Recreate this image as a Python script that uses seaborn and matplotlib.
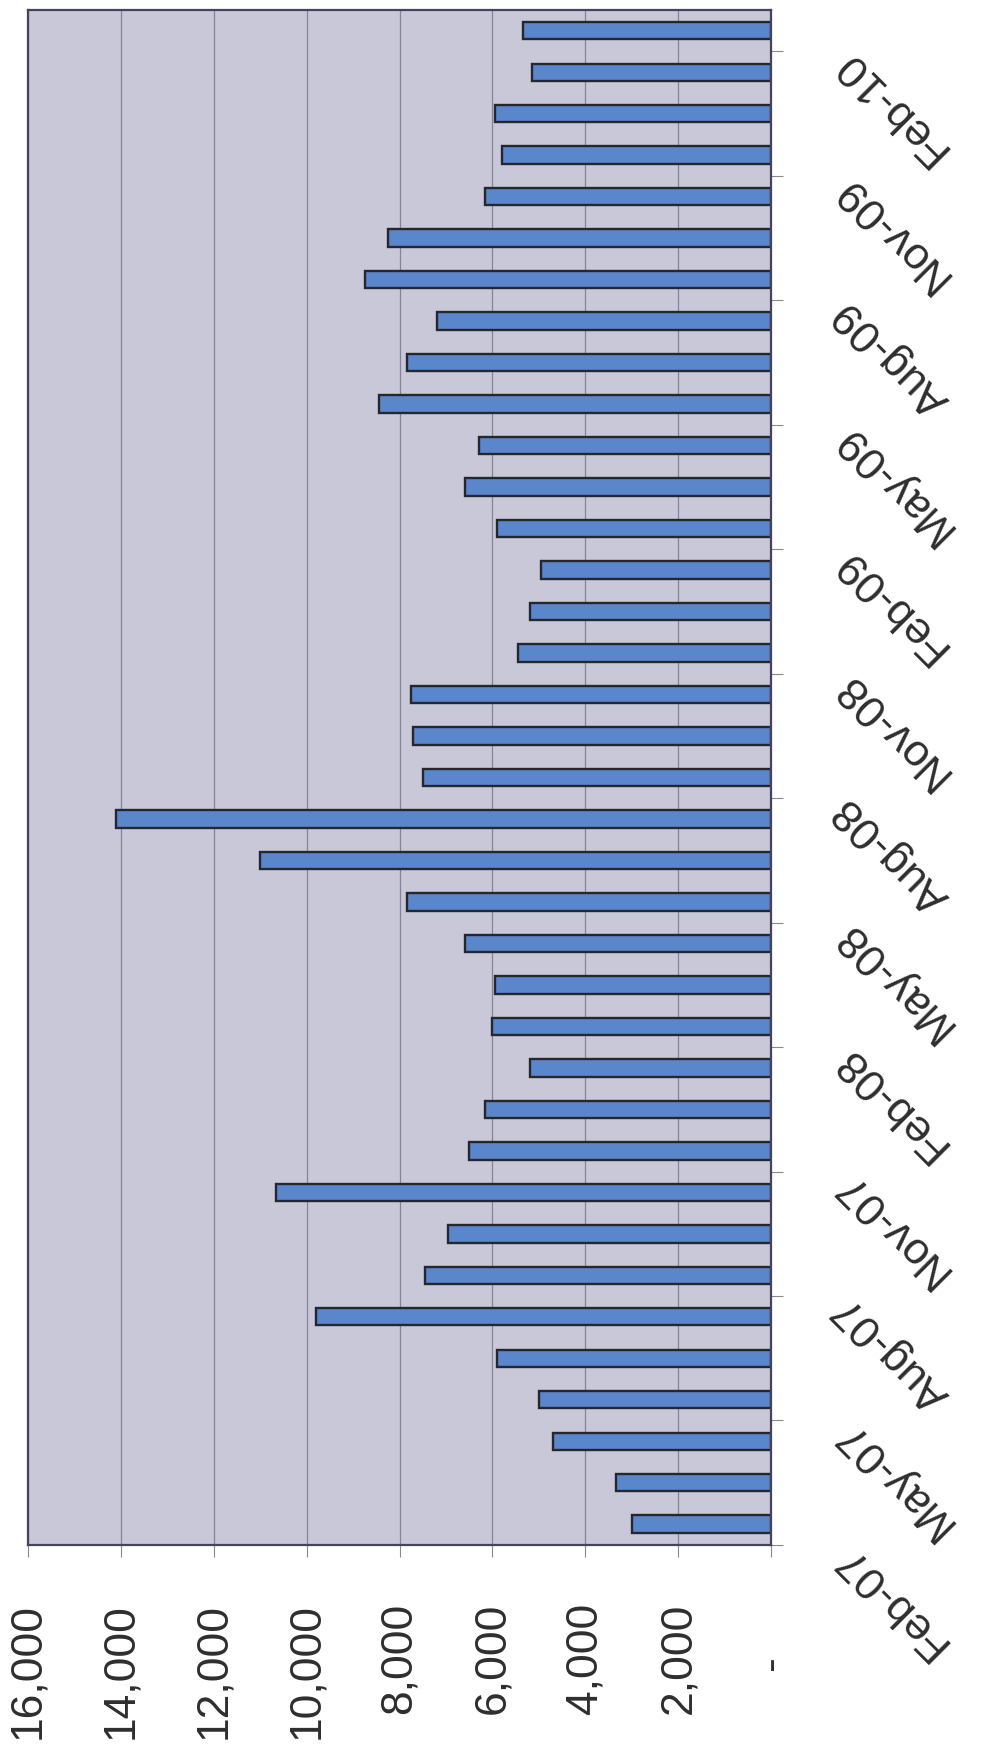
import numpy as np
import pandas as pd
import matplotlib
matplotlib.use("Agg")
import matplotlib.pyplot as plt
import matplotlib.transforms as mtransforms
from matplotlib.ticker import FixedLocator
import seaborn as sns

# Monthly totals, Feb-07 through Feb-10
months = [
    "Feb-07", "Mar-07", "Apr-07", "May-07", "Jun-07", "Jul-07", "Aug-07",
    "Sep-07", "Oct-07", "Nov-07", "Dec-07",
    "Jan-08", "Feb-08", "Mar-08", "Apr-08", "May-08", "Jun-08", "Jul-08",
    "Aug-08", "Sep-08", "Oct-08", "Nov-08", "Dec-08",
    "Jan-09", "Feb-09", "Mar-09", "Apr-09", "May-09", "Jun-09", "Jul-09",
    "Aug-09", "Sep-09", "Oct-09", "Nov-09", "Dec-09",
    "Jan-10", "Feb-10",
]
values = [
    3000, 3350, 4700, 5000, 5900, 9800, 7450,
    6950, 10650, 6500, 6150,
    5200, 6000, 5950, 6600, 7850, 11000, 14100,
    7500, 7700, 7750, 5450, 5200,
    4950, 5900, 6600, 6300, 8450, 7850, 7200,
    8750, 8250, 6150, 5800, 5950,
    5150, 5350,
]
value_ticks = [0, 2000, 4000, 6000, 8000, 10000, 12000, 14000, 16000]
value_tick_labels = ["-", "2,000", "4,000", "6,000", "8,000",
                     "10,000", "12,000", "14,000", "16,000"]
label_step = 3  # one category label per quarter

BAR = "#5a87cb"
EDGE = "#26262f"
PLOT_BG = "#c9c8d8"
GRID = "#85829a"
SPINE = "#46445a"
TEXT = "#2e2e2e"

sns.set_theme(style="ticks")
plt.rcParams["font.family"] = ["Liberation Sans", "DejaVu Sans"]

DPI = 100
fig = plt.figure(figsize=(9.85, 17.57), dpi=DPI)
fig.patch.set_facecolor("white")
ax = fig.add_axes([0.0284, 0.1207, 0.7545, 0.8736])
ax.set_facecolor(PLOT_BG)

df = pd.DataFrame({"month": months, "units": values})
sns.barplot(data=df, x="units", y="month", orient="h", order=months,
            color=BAR, saturation=1, edgecolor=EDGE, linewidth=1.7,
            width=0.42, ax=ax)

# value axis runs right-to-left, months run bottom-to-top
ax.set_xlim(16000, 0)
ax.set_ylim(-0.5, len(months) - 0.5)
ax.set_xlabel("")
ax.set_ylabel("")

ax.grid(axis="x", color=GRID, linewidth=0.9)
ax.grid(axis="y", visible=False)
ax.set_axisbelow(True)

for s in ax.spines.values():
    s.set_visible(True)
    s.set_color(SPINE)
    s.set_linewidth(1.6)

# value axis ticks
ax.set_xticks(value_ticks)
ax.set_xticklabels(value_tick_labels)
ax.tick_params(axis="x", which="major", direction="out", length=8.6,
               width=0.8, color="#8a8a8a", pad=33, labelsize=32,
               labelcolor=TEXT, labelrotation=90)
for lab in ax.get_xticklabels():
    lab.set_ha("center")
    lab.set_va("top")
xl = ax.get_xticklabels()
xl[0].set_transform(xl[0].get_transform() +
                    mtransforms.ScaledTranslation(0, -52 / DPI, fig.dpi_scale_trans))

# month axis on the right, labels every quarter, tick marks between categories
idx = np.arange(0, len(months), label_step)
ax.set_yticks(idx)
ax.set_yticklabels([months[i] for i in idx])
ax.yaxis.set_minor_locator(FixedLocator(np.arange(-0.5, len(months) - 1, label_step)))
ax.tick_params(axis="y", which="both", left=False, labelleft=False,
               right=True, labelright=True)
ax.tick_params(axis="y", which="major", length=0, pad=50, labelsize=32,
               labelcolor=TEXT)
ax.tick_params(axis="y", which="minor", direction="out", length=8.6,
               width=0.8, color="#8a8a8a")
shift = mtransforms.ScaledTranslation(0, -26 / DPI, fig.dpi_scale_trans)
for lab in ax.get_yticklabels():
    lab.set_rotation(135)
    lab.set_rotation_mode("anchor")
    lab.set_ha("right")
    lab.set_va("center")
    lab.set_transform(lab.get_transform() + shift)

fig.savefig("out.png", dpi=DPI)
